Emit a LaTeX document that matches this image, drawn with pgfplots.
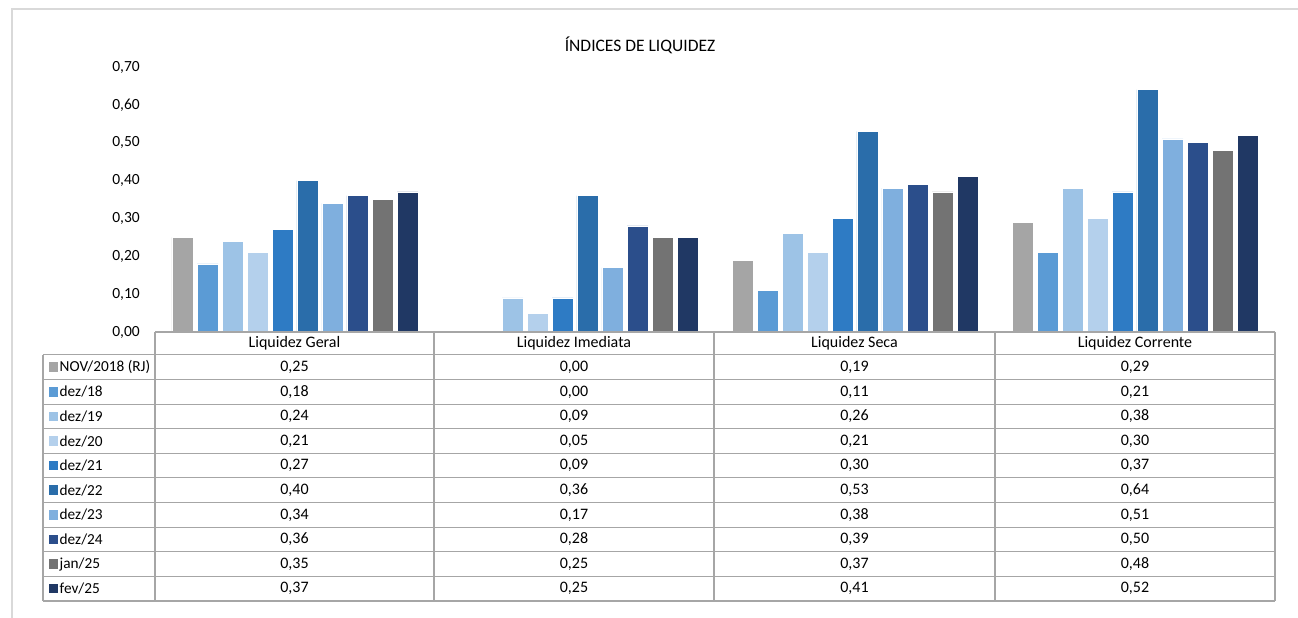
\documentclass[border=0pt]{standalone}
\usepackage{pgfplots}
\pgfplotsset{compat=1.18}
\usepackage{pgfplotstable}
\usepackage{fontspec}
\setmainfont{Carlito}

\definecolor{c1}{HTML}{A5A5A5}
\definecolor{c2}{HTML}{5B9BD5}
\definecolor{c3}{HTML}{9DC3E6}
\definecolor{c4}{HTML}{B4D0EC}
\definecolor{c5}{HTML}{2E7BC4}
\definecolor{c6}{HTML}{2A6DAA}
\definecolor{c7}{HTML}{7FAFDE}
\definecolor{c8}{HTML}{2B4E8B}
\definecolor{c9}{HTML}{737373}
\definecolor{c10}{HTML}{203864}
\definecolor{tgray}{HTML}{A6A6A6}
\definecolor{fgray}{HTML}{D9D9D9}

\pgfplotstableread{
x s1 s2 s3 s4 s5 s6 s7 s8 s9 s10
0 0.25 0.18 0.24 0.21 0.27 0.40 0.34 0.36 0.35 0.37
1 0.00 0.00 0.09 0.05 0.09 0.36 0.17 0.28 0.25 0.25
2 0.19 0.11 0.26 0.21 0.30 0.53 0.38 0.39 0.37 0.41
3 0.29 0.21 0.38 0.30 0.37 0.64 0.51 0.50 0.48 0.52
}\datatable

\newcommand\serlabel[1]{\ifcase#1\or NOV/2018 (RJ)\or dez/18\or dez/19\or dez/20\or dez/21\or dez/22\or dez/23\or dez/24\or jan/25\or fev/25\fi}
\newcommand\tfont{\fontsize{16}{18}\selectfont}
\newcommand\lfont{\fontsize{15.3}{18}\selectfont}

\begin{document}
\begin{tikzpicture}[x=1pt,y=1pt]
\path[use as bounding box] (0,0) rectangle (1298,618);
% outer frame
\draw[fgray, line width=1.5pt] (12,0) -- (12,609) -- (1298,609);
% title
\node[font=\fontsize{17.5}{20}\selectfont] at (640,573) {ÍNDICES DE LIQUIDEZ};

\begin{axis}[
  at={(155pt,286pt)}, anchor=south west,
  scale only axis, width=1120pt, height=265pt,
  xmin=-0.5, xmax=3.5, ymin=0, ymax=0.7,
  ytick={0,0.1,0.2,0.3,0.4,0.5,0.6,0.7},
  xtick=\empty,
  axis line style={draw=none},
  major tick length=0pt,
  ybar, bar width=0.075,
  yticklabel style={font=\fontsize{15.5}{18}\selectfont, anchor=east, inner sep=0pt, xshift=-15pt},
  /pgf/number format/fixed,
  /pgf/number format/fixed zerofill,
  /pgf/number format/precision=2,
  /pgf/number format/use comma,
  /pgf/number format/assume math mode=true,
  clip=false,
]
\addplot[fill=c1, draw=white, line width=0.6pt, bar shift=-0.4018] table[x=x,y=s1]{\datatable};
\addplot[fill=c2, draw=white, line width=0.6pt, bar shift=-0.3125] table[x=x,y=s2]{\datatable};
\addplot[fill=c3, draw=white, line width=0.6pt, bar shift=-0.2232] table[x=x,y=s3]{\datatable};
\addplot[fill=c4, draw=white, line width=0.6pt, bar shift=-0.1339] table[x=x,y=s4]{\datatable};
\addplot[fill=c5, draw=white, line width=0.6pt, bar shift=-0.0446] table[x=x,y=s5]{\datatable};
\addplot[fill=c6, draw=white, line width=0.6pt, bar shift=0.0446] table[x=x,y=s6]{\datatable};
\addplot[fill=c7, draw=white, line width=0.6pt, bar shift=0.1339] table[x=x,y=s7]{\datatable};
\addplot[fill=c8, draw=white, line width=0.6pt, bar shift=0.2232] table[x=x,y=s8]{\datatable};
\addplot[fill=c9, draw=white, line width=0.6pt, bar shift=0.3125] table[x=x,y=s9]{\datatable};
\addplot[fill=c10, draw=white, line width=0.6pt, bar shift=0.4018] table[x=x,y=s10]{\datatable};
\end{axis}

% data table
\foreach \k in {0,...,10}{
  \pgfmathsetmacro\yy{263-24.6*\k}
  \draw[tgray, line width=1pt] (43,\yy) -- (1275,\yy);
}
\draw[tgray, line width=1.2pt] (43,263) -- (43,17);
\foreach \xx in {155,434,714,995,1275}{
  \draw[tgray, line width=1.2pt] (\xx,286) -- (\xx,17);
}
\draw[tgray, line width=2pt] (155,286) -- (1275,286);
\draw[tgray, line width=1.5pt] (43,17) -- (1275,17);

\node[font=\tfont] at (294.5,274.5) {Liquidez Geral};
\node[font=\tfont] at (574,274.5) {Liquidez Imediata};
\node[font=\tfont] at (854.5,274.5) {Liquidez Seca};
\node[font=\tfont] at (1135,274.5) {Liquidez Corrente};

\foreach \i in {1,...,10}{
  \pgfmathsetmacro\yy{263-24.6*(\i-0.5)}
  \fill[c\i] (48.5,{\yy-4.8}) rectangle ++(9.6,9.6);
  \node[anchor=west, inner sep=0pt, font=\lfont] at (59.5,\yy) {\serlabel{\i}};
  \foreach \r/\xx in {0/294.5,1/574,2/854.5,3/1135}{
    \pgfplotstablegetelem{\r}{s\i}\of\datatable
    \node[font=\tfont] at (\xx,\yy) {\pgfmathprintnumber[fixed,fixed zerofill,precision=2,use comma,assume math mode=true]{\pgfplotsretval}};
  }
}
\end{tikzpicture}
\end{document}
